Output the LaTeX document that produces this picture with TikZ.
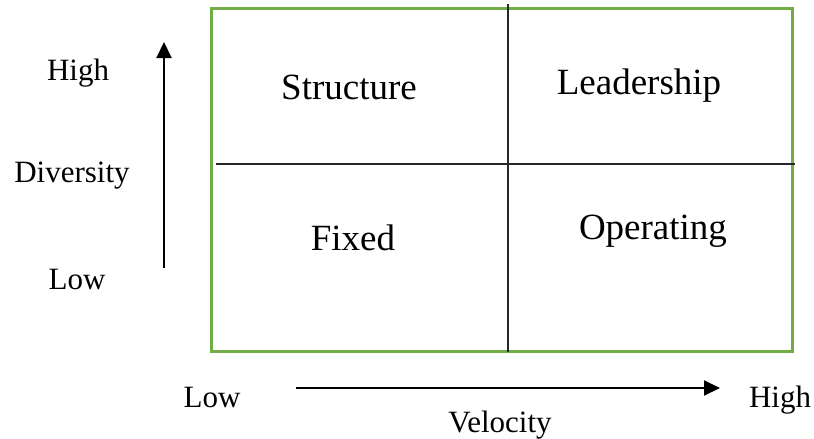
\documentclass[tikz,border=0pt]{standalone}
\usepackage{fontspec}
\setmainfont{Liberation Serif}
\usetikzlibrary{arrows.meta,positioning}
\definecolor{boxgreen}{RGB}{112,173,71}

\tikzstyle{cell} = [anchor=base, inner sep=0pt, font=\fontsize{37}{40}\selectfont]
\tikzstyle{axislab} = [anchor=base, inner sep=0pt, font=\fontsize{31}{34}\selectfont]
\tikzstyle{axis} = [line width=2pt, -{Triangle[length=16pt,width=15pt]}]
\tikzstyle{grid} = [line width=1.3pt, black!85]

\begin{document}
\begin{tikzpicture}[x=1pt, y=-1pt]
\useasboundingbox (0,0) rectangle (814,439);
% quadrant box
\coordinate (tl) at (211,8);
\coordinate (br) at (792,351);
\draw [boxgreen, line width=3pt] (tl) rectangle (br);
\coordinate (vtop) at (508,4);
\coordinate (vbot) at (508,352);
\coordinate (hleft) at (216,164);
\coordinate (hright) at (795,164);
\draw [grid] (vtop) -- (vbot);
\draw [grid] (hleft) -- (hright);
% quadrant labels
\node [cell] (Structure) at (349,99) {Structure};
\node [cell] (Leadership) at (639,94) {Leadership};
\node [cell] (Fixed) at (353,250) {Fixed};
\node [cell] (Operating) at (653,239) {Operating};
% diversity axis
\coordinate (div_low) at (164,268);
\coordinate (div_high) at (164,42);
\draw [axis] (div_low) -- (div_high);
\node [axislab] (div_hi_lab) at (78,80) {High};
\node [axislab] (div_lab) at (72,182) {Diversity};
\node [axislab] (div_lo_lab) at (77,289) {Low};
% velocity axis
\coordinate (vel_low) at (296,388);
\coordinate (vel_high) at (720,388);
\draw [axis] (vel_low) -- (vel_high);
\node [axislab] (vel_lo_lab) at (212,407) {Low};
\node [axislab] (vel_hi_lab) at (780,407) {High};
\node [axislab] (vel_lab) at (500,432) {Velocity};
\end{tikzpicture}
\end{document}
